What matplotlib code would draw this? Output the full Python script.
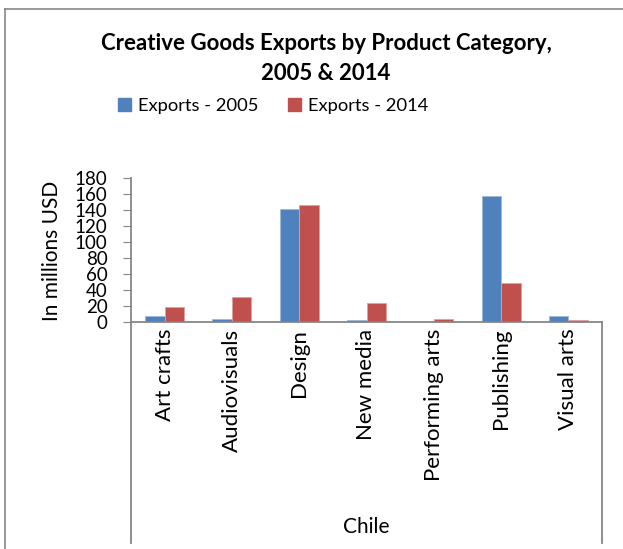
import numpy as np
import matplotlib.pyplot as plt
from matplotlib.lines import Line2D
from matplotlib.patches import Patch

categorias = ['Art crafts', 'Audiovisuals', 'Design', 'New media',
              'Performing arts', 'Publishing', 'Visual arts']
exportaciones_2005 = [7, 3, 141, 2, 0, 158, 7]
exportaciones_2014 = [19, 31, 146, 24, 4, 48, 2]
etiquetas_y = [0, 20, 40, 60, 80, 100, 120, 140, 160, 180]
pais = 'Chile'

azul = '#4F81BD'
rojo = '#C0504D'
gris = '#868686'

plt.rcParams['font.family'] = ['Lato', 'DejaVu Sans']

fig = plt.figure(figsize=(6.23, 5.49), dpi=100)
ax = fig.add_axes([131 / 623, 1 - 321.7 / 549, 471 / 623, 143.7 / 549])

x = np.arange(len(categorias))
ancho = 0.29
ax.bar(x - ancho / 2, exportaciones_2005, ancho, color=azul, edgecolor='#9db9dc', linewidth=0.6)
ax.bar(x + ancho / 2, exportaciones_2014, ancho, color=rojo, edgecolor='#e0a09e', linewidth=0.6)

ax.set_xlim(-0.5, len(categorias) - 0.5)
ax.set_ylim(0, 180)
ax.set_yticks(etiquetas_y)
ax.tick_params(axis='y', labelsize=13.5, length=6, color=gris, pad=11)
ax.set_xticks(x)
ax.set_xticklabels(categorias, rotation=90, fontsize=16, va='top')
ax.tick_params(axis='x', length=0, pad=5)

for lado in ['top', 'right']:
    ax.spines[lado].set_visible(False)
ax.spines['left'].set_color(gris)
ax.spines['bottom'].set_color(gris)
ax.spines['left'].set_linewidth(1.3)
ax.spines['bottom'].set_linewidth(1.3)

# lineas del eje de categorias (nivel "Chile")
y_fondo = (321.7 - 543) / 143.7
ax.plot([0, 0], [0, y_fondo], transform=ax.transAxes, color=gris, lw=1.3, clip_on=False)
ax.plot([1, 1], [0, y_fondo], transform=ax.transAxes, color=gris, lw=1.3, clip_on=False)
ax.text(0.5, (321.7 - 527) / 143.7, pais, transform=ax.transAxes,
        ha='center', va='center', fontsize=15)

fig.text(52 / 623, 1 - 251 / 549, 'In millions USD', rotation=90,
         ha='center', va='center', fontsize=15)

fig.text(326 / 623, 1 - 43 / 549, 'Creative Goods Exports by Product Category,',
         ha='center', va='center', fontsize=16, fontweight='bold')
fig.text(326 / 623, 1 - 73 / 549, '2005 & 2014',
         ha='center', va='center', fontsize=16, fontweight='bold')

handles = [Patch(color=azul, label='Exports - 2005'), Patch(color=rojo, label='Exports - 2014')]
fig.legend(handles=handles, loc='center', bbox_to_anchor=(273 / 623, 1 - 106 / 549),
           ncol=2, frameon=False, fontsize=13.2, handlelength=0.7, handleheight=0.7,
           handletextpad=0.4, columnspacing=1.6)

# marco del grafico
fig.add_artist(Line2D([5 / 623, 1], [1 - 9 / 549, 1 - 9 / 549], color=gris, lw=1.2))
fig.add_artist(Line2D([5 / 623, 5 / 623], [0, 1 - 9 / 549], color=gris, lw=1.2))

fig.savefig('out.png', dpi=100)
